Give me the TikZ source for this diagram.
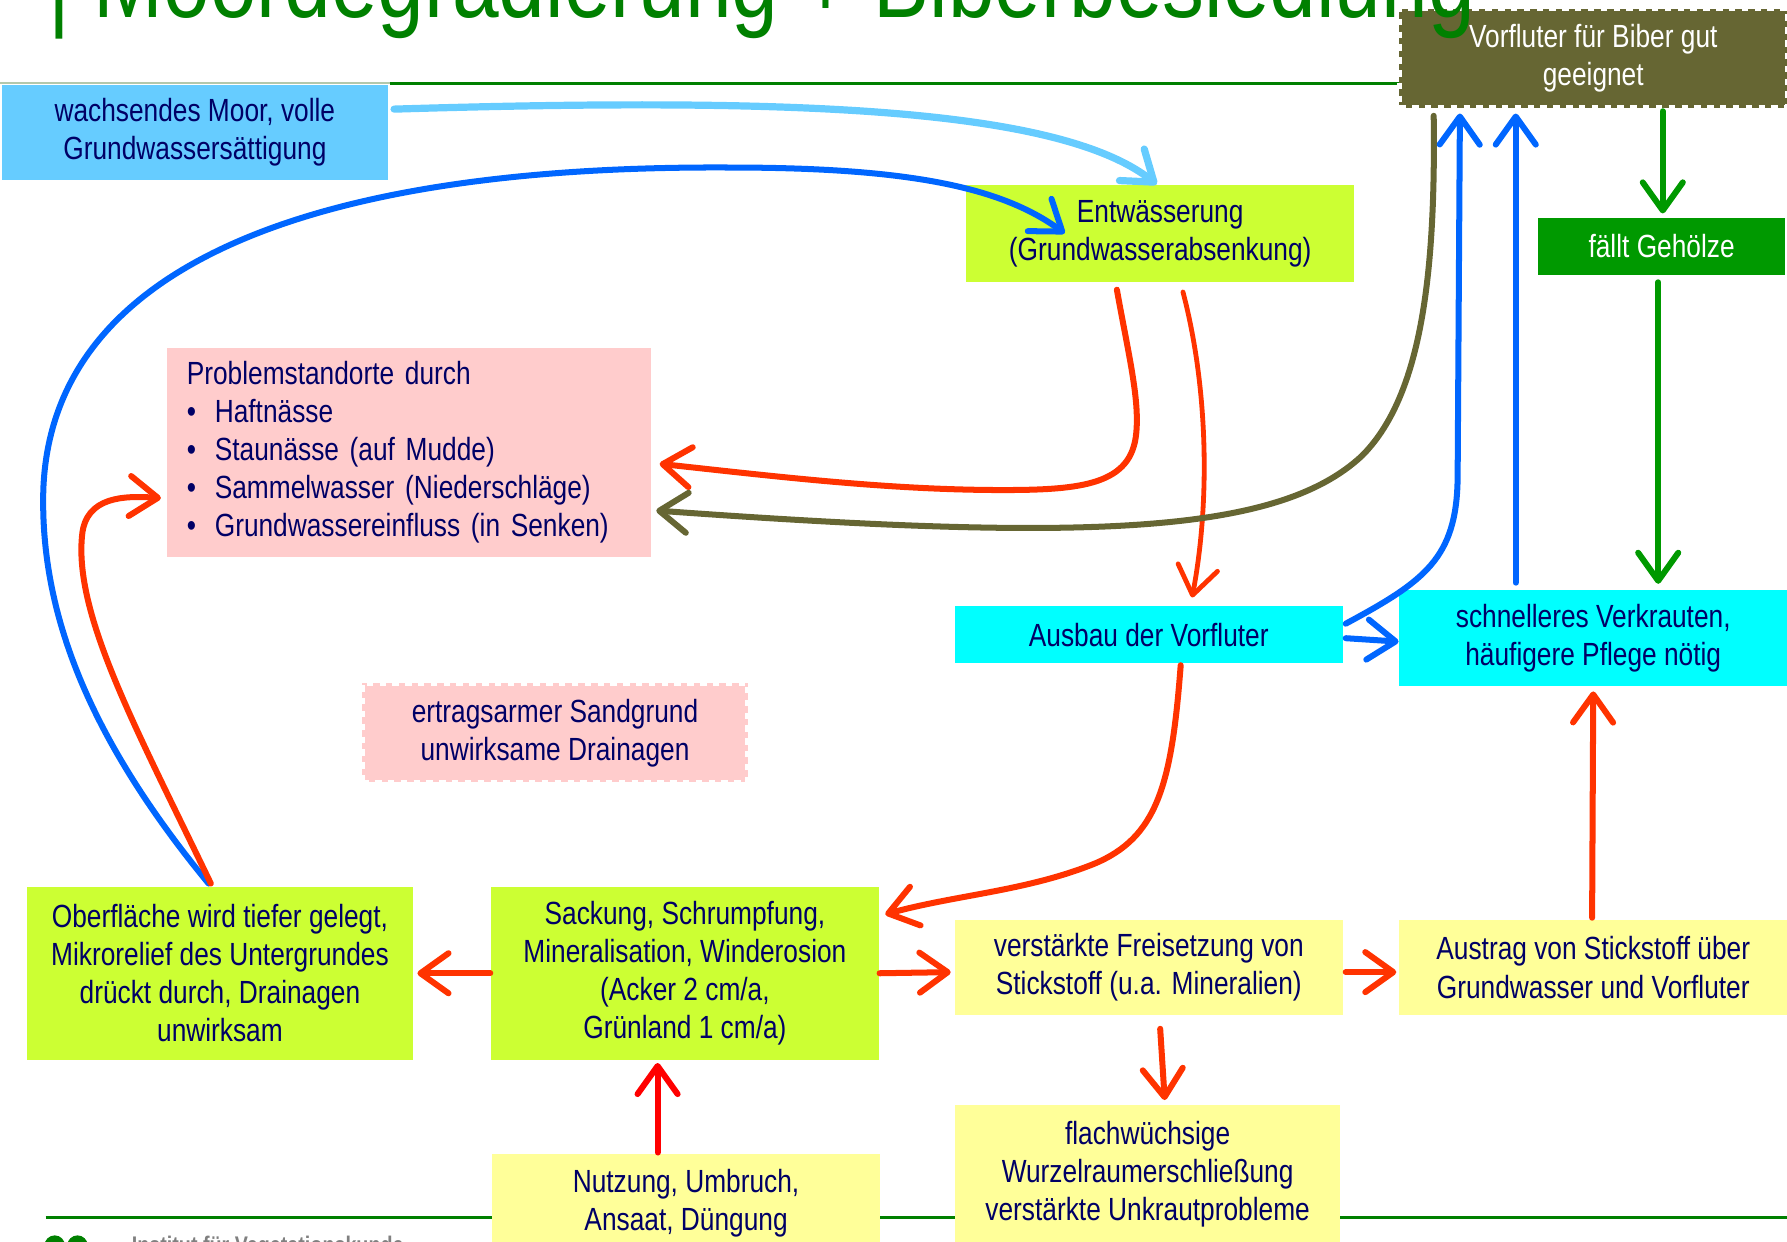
\documentclass[tikz,border=0pt]{standalone}
\usepackage{fontspec}
\setmainfont{Liberation Sans}[FakeStretch=0.82]
\usetikzlibrary{arrows.meta,calc}
\definecolor{navy}{HTML}{000066}
\definecolor{boxblue}{HTML}{66CCFF}
\definecolor{boxlime}{HTML}{CCFF33}
\definecolor{boxolive}{HTML}{666633}
\definecolor{boxgreen}{HTML}{009900}
\definecolor{boxpink}{HTML}{FFCCCC}
\definecolor{boxcyan}{HTML}{00FFFF}
\definecolor{boxyellow}{HTML}{FFFF99}
\definecolor{arrred}{HTML}{FF3300}
\definecolor{arrblue}{HTML}{0066FF}
\definecolor{titlegreen}{HTML}{008000}
\definecolor{lightrule}{HTML}{B4C8AC}
\tikzset{
  box/.style={inner sep=0pt, align=center, text=navy, font=\fontsize{8}{9.5}\selectfont},
  dashbox/.style={box, draw=white, line width=1.2pt, dash pattern=on 1.6pt off 1.6pt},
  arr/.style={line width=1.5pt, line cap=round, -{Straight Barb[length=7pt,width=10pt,round]}}
}

\begin{document}
\begin{tikzpicture}[x=0.01cm,y=-0.01cm]
            \useasboundingbox (0,0) rectangle (1568,1089);
            \draw[lightrule, line width=0.5pt] (0,73)--(342,73);
            \draw[titlegreen, line width=0.8pt] (342,73)--(1228,73);
            \draw[titlegreen, line width=0.8pt] (40,1068)--(1568,1068);
            \node[box, fill=boxblue, minimum width=3.38cm, minimum height=0.83cm] (wachsend) at (171,116) {wachsendes Moor, volle\\Grundwassersättigung};
            \node[box, fill=boxlime, minimum width=3.4cm, minimum height=0.85cm] (entw) at (1018,205) {Entwässerung\\(Grundwasserabsenkung)};
            \node[dashbox, fill=boxolive, text=white, minimum width=3.4cm, minimum height=0.87cm] (vorf) at (1398,51) {Vorfluter für Biber gut\\geeignet};
            \node[box, fill=boxgreen, text=white, minimum width=2.16cm, minimum height=0.5cm] (geh) at (1458,216) {fällt Gehölze};
            \node[box, fill=boxpink, minimum width=4.24cm, minimum height=1.84cm, text width=3.9cm, align=left] (problem) at (359,397) {Problemstandorte durch\\
              \makebox[7pt][l]{\textbullet}Haftnässe\\
              \makebox[7pt][l]{\textbullet}Staunässe (auf Mudde)\\
              \makebox[7pt][l]{\textbullet}Sammelwasser (Niederschläge)\\
              \makebox[7pt][l]{\textbullet}Grundwassereinfluss (in Senken)};
            \node[dashbox, fill=boxpink, minimum width=3.38cm, minimum height=0.87cm] (sand) at (487,643) {ertragsarmer Sandgrund\\unwirksame Drainagen};
            \node[box, fill=boxcyan, minimum width=3.4cm, minimum height=0.5cm] (ausbau) at (1008,557) {Ausbau der Vorfluter};
            \node[box, fill=boxcyan, minimum width=3.4cm, minimum height=0.84cm] (schnell) at (1398,560) {schnelleres Verkrauten,\\häufigere Pflege nötig};
            \node[box, fill=boxlime, minimum width=3.39cm, minimum height=1.52cm] (ober) at (193,854) {Oberfläche wird tiefer gelegt,\\Mikrorelief des Untergrundes\\drückt durch, Drainagen\\unwirksam};
            \node[box, fill=boxlime, minimum width=3.4cm, minimum height=1.52cm] (sack) at (601,854) {Sackung, Schrumpfung,\\Mineralisation, Winderosion\\(Acker 2 cm/a,\\Grünland 1 cm/a)};
            \node[box, fill=boxyellow, minimum width=3.4cm, minimum height=0.84cm] (frei) at (1008,849) {verstärkte Freisetzung von\\Stickstoff (u.a. Mineralien)};
            \node[box, fill=boxyellow, minimum width=3.4cm, minimum height=0.84cm] (austrag) at (1398,849) {Austrag von Stickstoff über\\Grundwasser und Vorfluter};
            \node[box, fill=boxyellow, minimum width=3.38cm, minimum height=1.2cm] (flach) at (1007,1030) {flachwüchsige\\Wurzelraumerschließung\\verstärkte Unkrautprobleme};
            \node[box, fill=boxyellow, minimum width=3.4cm, minimum height=0.86cm] (nutz) at (602,1056) {Nutzung, Umbruch,\\Ansaat, Düngung};
            \draw[arr, boxblue, line width=1.8pt] ($(wachsend.north east)+(5,22)$) .. controls (700,85) and (930,95) .. ($(entw.north)+(-3,0)$);
            \draw[arr, arrblue] ($(ober.north)+(-10,-2)$) .. controls (80,650) and (35,540) .. (38,430) .. controls (45,230) and (280,145) .. (640,147) .. controls (800,147) and (880,165) .. ($(entw.north west)+(87,43)$);
            \draw[arr, arrred] ($(ober.north)+(-8,-2)$) .. controls (120,640) and (65,540) .. (72,470) .. controls (75,435) and (110,435) .. ($(problem.west)+(-5,40)$);
            \draw[arr, arrred] ($(entw.south)+(-38,6)$) .. controls (990,310) and (1000,350) .. (997,380) .. controls (993,425) and (950,430) .. (880,430) .. controls (780,430) and (680,418) .. ($(problem.east)+(7,10)$);
            \draw[arr, arrred, line width=1.2pt] ($(entw.south)+(20,8)$) .. controls (1060,340) and (1062,440) .. ($(ausbau.north)+(38,-7)$);
            \draw[arr, boxolive] ($(vorf.south)+(-140,5)$) .. controls (1260,250) and (1245,350) .. (1195,400) .. controls (1120,470) and (950,475) .. ($(problem.east)+(4,51)$);
            \draw[arr, arrblue] ($(ausbau.north east)+(2,16)$) .. controls (1250,510) and (1278,490) .. (1279,420) -- ($(vorf.south)+(-117,3)$);
            \draw[arr, arrblue] ($(ausbau.east)+(2,3)$) -- ($(schnell.west)+(0,3)$);
            \draw[arr, arrblue] ($(schnell.north)+(-68,-6)$) -- ($(vorf.south)+(-68,3)$);
            \draw[arr, boxgreen] ($(vorf.south)+(61,1)$) -- ($(geh.north)+(1,-3)$);
            \draw[arr, boxgreen] ($(geh.south)+(-3,6)$) -- ($(schnell.north)+(57,-5)$);
            \draw[arr, arrred] ($(ausbau.south)+(28,1)$) .. controls (1028,690) and (1015,735) .. (960,758) .. controls (900,782) and (840,785) .. ($(sack.north east)+(5,25)$);
            \draw[arr, arrred] (sack.west) -- ($(ober.east)+(3,0)$);
            \draw[arr, arrred] (sack.east) -- ($(frei.west)+(-3,4)$);
            \draw[arr, arrred] ($(frei.east)+(2,4)$) -- ($(austrag.west)+(-2,4)$);
            \draw[arr, arrred] ($(frei.south)+(10,11)$) -- ($(flach.north)+(15,-4)$);
            \draw[arr, arrred] ($(austrag.north)+(-1,-1)$) -- ($(schnell.south)+(0,4)$);
            \draw[arr, red] ($(nutz.north)+(-25,-1)$) -- ($(sack.south)+(-24,2)$);
            \node[text=titlegreen, font=\fontsize{25.5}{30}\selectfont, anchor=base west, inner sep=0pt] (title) at (42,15) {| Moordegradierung + Biberbesiedlung};
            \node[text=gray, font=\bfseries\fontsize{6}{7}\selectfont, anchor=base west, inner sep=0pt] (inst) at (115,1100) {Institut für Vegetationskunde};
            \fill[titlegreen] (48,1093) circle (9) (68,1093) circle (9);
        \end{tikzpicture}
\end{document}
